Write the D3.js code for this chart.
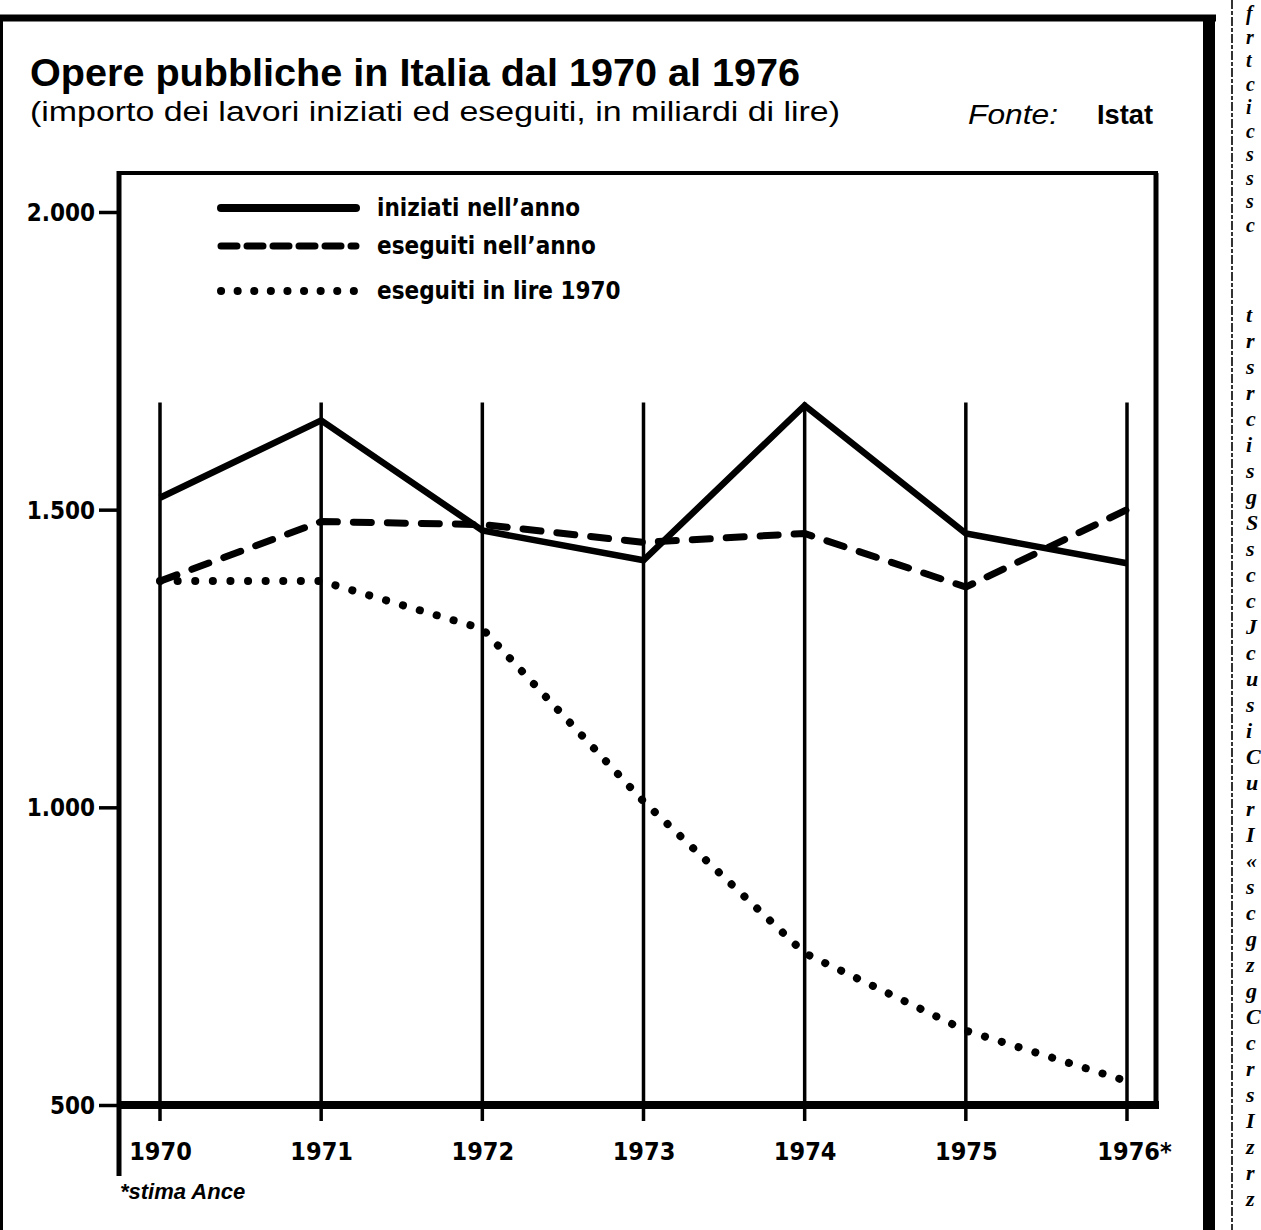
<!DOCTYPE html>
<html>
<head>
<meta charset="utf-8">
<script src="https://cdn.jsdelivr.net/npm/d3@7"></script>
<style>
  body { margin: 0; background: #fff; }
  svg { display: block; }
</style>
</head>
<body>
<div id="chart"></div>
<script>
// anni e valori (miliardi di lire)
var years = ["1970", "1971", "1972", "1973", "1974", "1975", "1976"];
var yearLabels = ["1970", "1971", "1972", "1973", "1974", "1975", "1976*"];
var iniziati = [1520, 1650, 1465, 1415, 1675, 1460, 1410];
var eseguiti = [1380, 1480, 1475, 1445, 1460, 1370, 1500];
var eseguiti1970 = [1380, 1380, 1300, 1010, 755, 625, 540];
var yTicks = [500, 1000, 1500, 2000];
var yTickLabels = ["500", "1.000", "1.500", "2.000"];
var legendLabels = ["iniziati nell\u2019anno", "eseguiti nell\u2019anno", "eseguiti in lire 1970"];
var gridTop = 1680;

// colonna dell'articolo vicino (lettere tagliate)
var sideLetters1 = ["f", "r", "t", "c", "i", "c", "s", "s", "s", "c"];
var sideLetters2 = ["t", "r", "s", "r", "c", "i", "s", "g", "S", "s", "c", "c", "J", "c", "u", "s", "i",
                    "C", "u", "r", "I", "\u00ab", "s", "c", "g", "z", "g", "C", "c", "r", "s", "I", "z", "r", "z"];

var W = 1261, H = 1230;
var cond = "'Liberation Sans Narrow','DejaVu Sans Condensed','Liberation Sans',sans-serif";
var sans = "'Liberation Sans','DejaVu Sans',sans-serif";
var serif = "'Liberation Serif','DejaVu Serif',serif";

var svg = d3.select("#chart")
  .append("svg")
    .attr("width", W)
    .attr("height", H);

// cornice esterna
svg.append("line").attr("x1", 0).attr("x2", 1216).attr("y1", 18).attr("y2", 18)
  .attr("stroke", "#000").attr("stroke-width", 7);
svg.append("line").attr("x1", 1209).attr("x2", 1209).attr("y1", 15).attr("y2", H)
  .attr("stroke", "#000").attr("stroke-width", 12);
svg.append("line").attr("x1", 1.5).attr("x2", 1.5).attr("y1", 15).attr("y2", H)
  .attr("stroke", "#000").attr("stroke-width", 3);
svg.append("line").attr("x1", 1232).attr("x2", 1232).attr("y1", 0).attr("y2", H)
  .attr("stroke", "#000").attr("stroke-width", 1.6)
  .attr("stroke-dasharray", "9 2 4 2");

svg.selectAll(".side1").data(sideLetters1).enter().append("text")
  .attr("x", 1246).attr("y", function(d, i) { return 20 + i * 23.5; })
  .style("font", "italic bold 20px " + serif)
  .text(function(d) { return d; });
svg.selectAll(".side2").data(sideLetters2).enter().append("text")
  .attr("x", 1246).attr("y", function(d, i) { return 322 + i * 26; })
  .style("font", "italic bold 22px " + serif)
  .text(function(d) { return d; });

// titoli
svg.append("text")
  .attr("x", 30).attr("y", 86)
  .attr("textLength", 770).attr("lengthAdjust", "spacingAndGlyphs")
  .style("font", "bold 38px " + sans)
  .text("Opere pubbliche in Italia dal 1970 al 1976");
svg.append("text")
  .attr("x", 30).attr("y", 121)
  .attr("textLength", 810).attr("lengthAdjust", "spacingAndGlyphs")
  .style("font", "27px " + sans)
  .text("(importo dei lavori iniziati ed eseguiti, in miliardi di lire)");
svg.append("text")
  .attr("x", 968).attr("y", 124)
  .attr("textLength", 90).attr("lengthAdjust", "spacingAndGlyphs")
  .style("font", "italic 27px " + sans)
  .text("Fonte:");
svg.append("text")
  .attr("x", 1097).attr("y", 124)
  .attr("textLength", 56).attr("lengthAdjust", "spacingAndGlyphs")
  .style("font", "bold 27px " + sans)
  .text("Istat");

// scale
var x = d3.scalePoint()
  .domain(years)
  .range([160, 1127]);
var y = d3.scaleLinear()
  .domain([500, 2000])
  .range([1105, 212]);

var frameLeft = 119, frameRight = 1156, frameTop = 173;

// linee verticali degli anni
svg.selectAll(".grid").data(years).enter().append("line")
  .attr("x1", function(d) { return x(d); })
  .attr("x2", function(d) { return x(d); })
  .attr("y1", y(gridTop))
  .attr("y2", y(500) + 16)
  .attr("stroke", "#000")
  .attr("stroke-width", 3.5);

// riquadro
svg.append("line").attr("x1", frameLeft).attr("x2", frameLeft).attr("y1", frameTop - 2).attr("y2", 1176)
  .attr("stroke", "#000").attr("stroke-width", 5);
svg.append("line").attr("x1", frameLeft).attr("x2", frameRight + 2).attr("y1", frameTop).attr("y2", frameTop)
  .attr("stroke", "#000").attr("stroke-width", 4);
svg.append("line").attr("x1", frameRight).attr("x2", frameRight).attr("y1", frameTop).attr("y2", y(500))
  .attr("stroke", "#000").attr("stroke-width", 5);
svg.append("line").attr("x1", frameLeft).attr("x2", frameRight + 3).attr("y1", y(500)).attr("y2", y(500))
  .attr("stroke", "#000").attr("stroke-width", 8);

// asse y
var yAxis = svg.append("g")
  .attr("transform", "translate(" + frameLeft + ",0)")
  .call(d3.axisLeft(y)
    .tickValues(yTicks)
    .tickSize(20)
    .tickPadding(4)
    .tickFormat(function(d, i) { return yTickLabels[i]; }));
yAxis.select(".domain").remove();
yAxis.selectAll("line").attr("stroke", "#000").attr("stroke-width", 3.5);
yAxis.selectAll("text")
  .attr("fill", "#000")
  .style("font", "bold 24px " + cond)
  .attr("dy", "0.36em");

// asse x (solo etichette)
var xAxis = svg.append("g")
  .attr("transform", "translate(0," + y(500) + ")")
  .call(d3.axisBottom(x)
    .tickSize(0)
    .tickPadding(37)
    .tickFormat(function(d, i) { return yearLabels[i]; }));
xAxis.select(".domain").remove();
xAxis.selectAll("text")
  .attr("fill", "#000")
  .style("font", "bold 25px " + cond)
  .attr("dx", function(d, i) { return i === years.length - 1 ? "0.28em" : 0; });

// serie
var line = d3.line()
  .x(function(d, i) { return x(years[i]); })
  .y(function(d) { return y(d); });

svg.append("path")
  .datum(eseguiti1970)
  .attr("d", line)
  .attr("fill", "none")
  .attr("stroke", "#000")
  .attr("stroke-width", 8)
  .attr("stroke-linecap", "round")
  .attr("stroke-dasharray", "0.1 17.5");

svg.append("path")
  .datum(eseguiti)
  .attr("d", line)
  .attr("fill", "none")
  .attr("stroke", "#000")
  .attr("stroke-width", 7)
  .attr("stroke-linecap", "round")
  .attr("stroke-dasharray", "18 16");

svg.append("path")
  .datum(iniziati)
  .attr("d", line)
  .attr("fill", "none")
  .attr("stroke", "#000")
  .attr("stroke-width", 6.5)
  .attr("stroke-linejoin", "miter");

// legenda
var legendY = [208, 246, 291];
var legendDash = [null, "16 10", "0.1 16.5"];
var legendW = [8, 7, 8];
legendLabels.forEach(function(d, i) {
  svg.append("line")
    .attr("x1", 221).attr("x2", 356)
    .attr("y1", legendY[i]).attr("y2", legendY[i])
    .attr("stroke", "#000")
    .attr("stroke-width", legendW[i])
    .attr("stroke-linecap", "round")
    .attr("stroke-dasharray", legendDash[i]);
  svg.append("text")
    .attr("x", 377).attr("y", legendY[i] + 8)
    .style("font", "bold 24px " + cond)
    .text(d);
});

// nota
svg.append("text")
  .attr("x", 120).attr("y", 1199)
  .style("font", "italic bold 22px " + sans)
  .text("*stima Ance");
</script>
</body>
</html>
